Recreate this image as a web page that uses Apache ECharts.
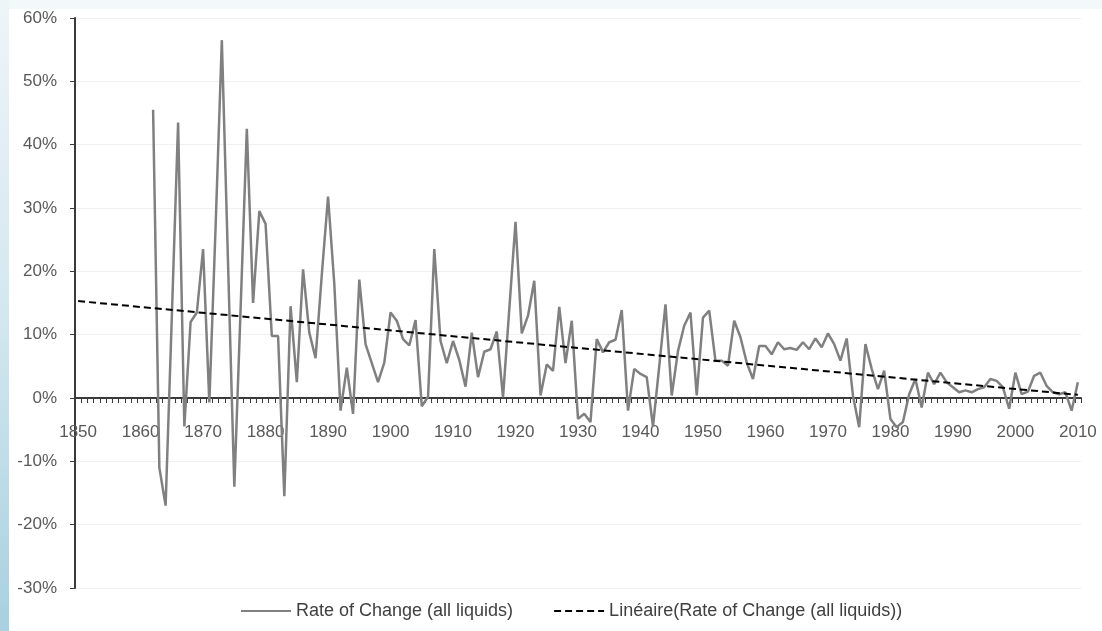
<!DOCTYPE html>
<html>
<head>
<meta charset="utf-8">
<title>Rate of Change (all liquids)</title>
<script src="https://cdn.jsdelivr.net/npm/echarts@6/dist/echarts.min.js"></script>
<style>
  html, body { margin: 0; padding: 0; background: #ffffff; }
  #chart { width: 1102px; height: 631px; }
</style>
</head>
<body>
<div id="chart"></div>
<script>
// Category range of the time axis (one category per year)
const axisFirstYear = 1850;
const axisLastYear = 2010;

// Year-on-year rate of change of all liquids production, in percent
const rateFirstYear = 1862;
const rateValues = [
  45.5, -11, -17, 13, 43.5, -4.5, 12, 13.5, 23.5, -0.7,          // 1862-1871
  27, 56.5, 21, -14, 14, 42.5, 15, 29.5, 27.5, 9.8,              // 1872-1881
  9.8, -15.5, 14.5, 2.5, 20.3, 10.3, 6.3, 19.5, 31.8, 18,        // 1882-1891
  -2, 4.8, -2.5, 18.7, 8.5, 5.5, 2.5, 5.6, 13.5, 12.2,           // 1892-1901
  9.3, 8.3, 12.3, -1.3, 0.2, 23.5, 9, 5.5, 9, 6,                 // 1902-1911
  1.8, 10.3, 3.3, 7.3, 7.7, 10.5, 0.1, 14, 27.8, 10.2,           // 1912-1921
  13, 18.5, 0.4, 5.3, 4.3, 14.4, 5.5, 12.2, -3.3, -2.5,          // 1922-1931
  -3.8, 9.3, 7.2, 8.8, 9.2, 13.9, -2, 4.6, 3.8, 3.3,             // 1932-1941
  -4.5, 5, 14.8, 0.4, 7.4, 11.4, 13.5, 0.4, 12.7, 13.8,          // 1942-1951
  5.9, 5.9, 5.1, 12.2, 9.6, 5.6, 3, 8.2, 8.2, 6.9,               // 1952-1961
  8.8, 7.7, 7.9, 7.6, 8.8, 7.7, 9.4, 8, 10.2, 8.5,               // 1962-1971
  5.9, 9.4, 0.4, -4.6, 8.5, 4.6, 1.4, 4.3, -3.3, -4.6,           // 1972-1981
  -3.8, 0.6, 3, -1.5, 4, 2.2, 4, 2.5, 1.7, 0.9,                  // 1982-1991
  1.2, 0.9, 1.4, 1.7, 3, 2.7, 1.7, -1.7, 4, 0.6,                 // 1992-2001
  1, 3.5, 4, 1.9, 0.9, 0.6, 0.9, -2, 2.5                         // 2002-2010
];

// Linear trend line end points (percent at 1850 and at 2010)
const trendYears = [1850, 2010];
const trendValues = [15.3, 0.5];

// Value axis range and step, percent
const yMin = -30;
const yMax = 60;
const yStep = 10;

const seriesNames = ['Rate of Change (all liquids)', 'Linéaire(Rate of Change (all liquids))'];

const categories = [];
for (let y = axisFirstYear; y <= axisLastYear; y++) categories.push(String(y));

const rateData = rateValues.map((v, i) => [String(rateFirstYear + i), v]);
const trendData = trendYears.map((y, i) => [String(y), trendValues[i]]);

const textColor = '#595959';
const fontFamily = '"Liberation Sans", Arial, sans-serif';

// Plot box in pixels; the time axis sits on the 0% line
const gridTop = 18;
const gridBottom = 43;
const chartHeight = 631;
const plotHeight = chartHeight - gridTop - gridBottom;
const zeroOffset = -plotHeight * (0 - yMin) / (yMax - yMin);

const chart = echarts.init(document.getElementById('chart'), null, { renderer: 'canvas' });

chart.setOption({
  backgroundColor: '#ffffff',
  animation: false,
  graphic: [
    { type: 'rect', z: -10, shape: { x: 0, y: 0, width: 1102, height: 9 },
      style: { fill: '#f3f8fa' } },
    { type: 'rect', z: -10, shape: { x: 0, y: 0, width: 9, height: 631 },
      style: { fill: new echarts.graphic.LinearGradient(0, 0, 0, 1, [
        { offset: 0, color: '#eef5f8' },
        { offset: 0.5, color: '#d3e7ef' },
        { offset: 1, color: '#a9d0df' }
      ]) } }
  ],
  grid: { left: 75, right: 21, top: gridTop, bottom: gridBottom, containLabel: false },
  legend: {
    left: 235,
    top: 597,
    itemGap: 40,
    itemWidth: 50,
    itemHeight: 12,
    data: seriesNames,
    itemStyle: { opacity: 0 },
    textStyle: { color: '#404040', fontSize: 18, fontFamily: fontFamily }
  },
  xAxis: {
    type: 'category',
    data: categories,
    boundaryGap: true,
    offset: zeroOffset,
    axisLine: { onZero: false, lineStyle: { color: '#3a3a3a', width: 2 } },
    axisTick: { show: true, interval: 0, length: 5, lineStyle: { color: '#3a3a3a', width: 1 } },
    axisLabel: { interval: 9, margin: 26, color: textColor, fontSize: 17, fontFamily: fontFamily },
    splitLine: { show: false }
  },
  yAxis: {
    type: 'value',
    min: yMin,
    max: yMax,
    interval: yStep,
    axisLine: { show: true, onZero: false, lineStyle: { color: '#3a3a3a', width: 2 } },
    axisTick: { show: true, length: 5, lineStyle: { color: '#3a3a3a' } },
    axisLabel: { margin: 18, color: textColor, fontSize: 17, fontFamily: fontFamily,
      formatter: v => v + '%' },
    splitLine: { show: true, lineStyle: { color: '#f0f0f0', width: 1 } }
  },
  series: [
    {
      name: seriesNames[0],
      type: 'line',
      data: rateData,
      symbol: 'none',
      lineStyle: { color: '#808080', width: 2.5 },
      itemStyle: { color: '#808080' },
      z: 2
    },
    {
      name: seriesNames[1],
      type: 'line',
      data: trendData,
      symbol: 'none',
      lineStyle: { color: '#000000', width: 2, type: [7, 4] },
      itemStyle: { color: '#000000' },
      z: 3
    }
  ]
});
</script>
</body>
</html>
